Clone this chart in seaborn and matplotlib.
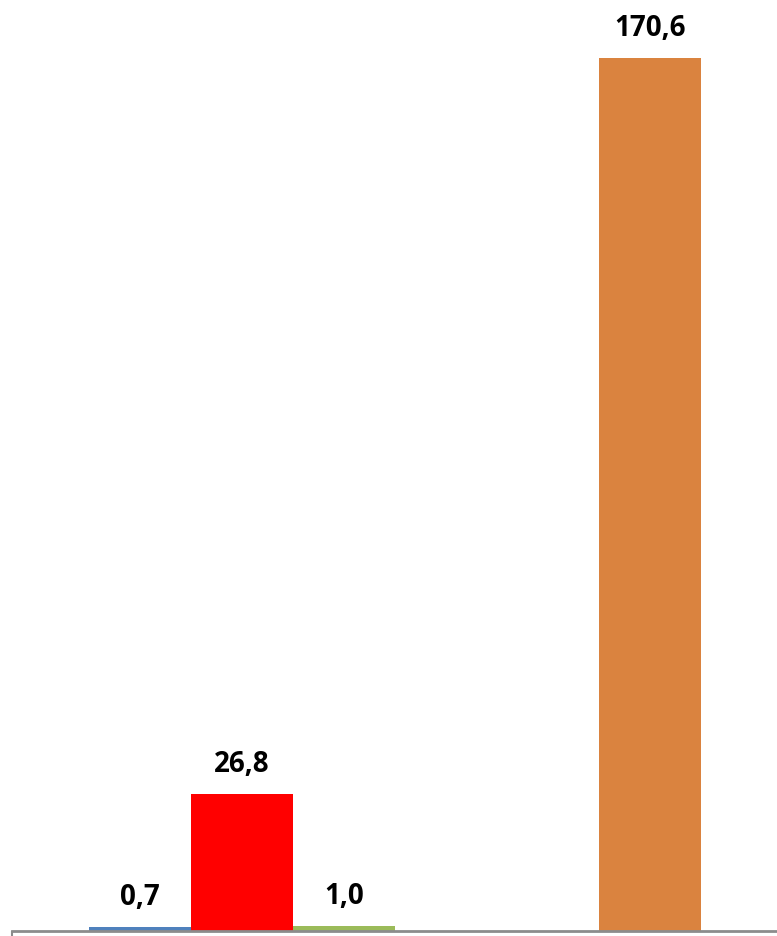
import pandas as pd
import seaborn as sns
import matplotlib.pyplot as plt

# bar data (series names not shown in the picture)
series = ['Série 1', 'Série 2', 'Série 3', 'Série 4']
values = [0.7, 26.8, 1.0, 170.6]
colors = ['#4F81BD', '#FF0000', '#9BBB59', '#DA833F']
# two empty slots between the first three bars and the last one
order = ['Série 1', 'Série 2', 'Série 3', 'gap1', 'gap2', 'Série 4']

df = pd.DataFrame({'serie': series, 'valor': values})

sns.set_style('white')
plt.rcParams['font.family'] = ['Open Sans', 'DejaVu Sans']

fig = plt.figure(figsize=(7.77, 9.36), dpi=100)
ax = fig.add_axes([12 / 777, 5 / 936, 765 / 777, 931 / 936])

sns.barplot(data=df, x='serie', y='valor', hue='serie', order=order,
            palette=dict(zip(series, colors)), saturation=1, width=1.0,
            linewidth=0, legend=False, ax=ax)

for c in ax.containers:
    ax.bar_label(c, labels=[f'{v:.1f}'.replace('.', ',') for v in c.datavalues],
                 padding=11, fontsize=20, fontweight='bold', color='black')

xmin = -1.25
ax.set_xlim(xmin, 6.24)
ax.set_ylim(0, 182)
ax.set_xticks([])
ax.set_xticks([xmin], minor=True)
ax.tick_params(axis='x', which='minor', bottom=True, length=5, width=1.5,
               color='#8c8c8c', direction='out')
ax.set_yticks([])
ax.set_xlabel('')
ax.set_ylabel('')
for s in ['top', 'right', 'left']:
    ax.spines[s].set_visible(False)
ax.spines['bottom'].set_color('#8c8c8c')
ax.spines['bottom'].set_linewidth(2)

fig.savefig('out.png', dpi=100)
